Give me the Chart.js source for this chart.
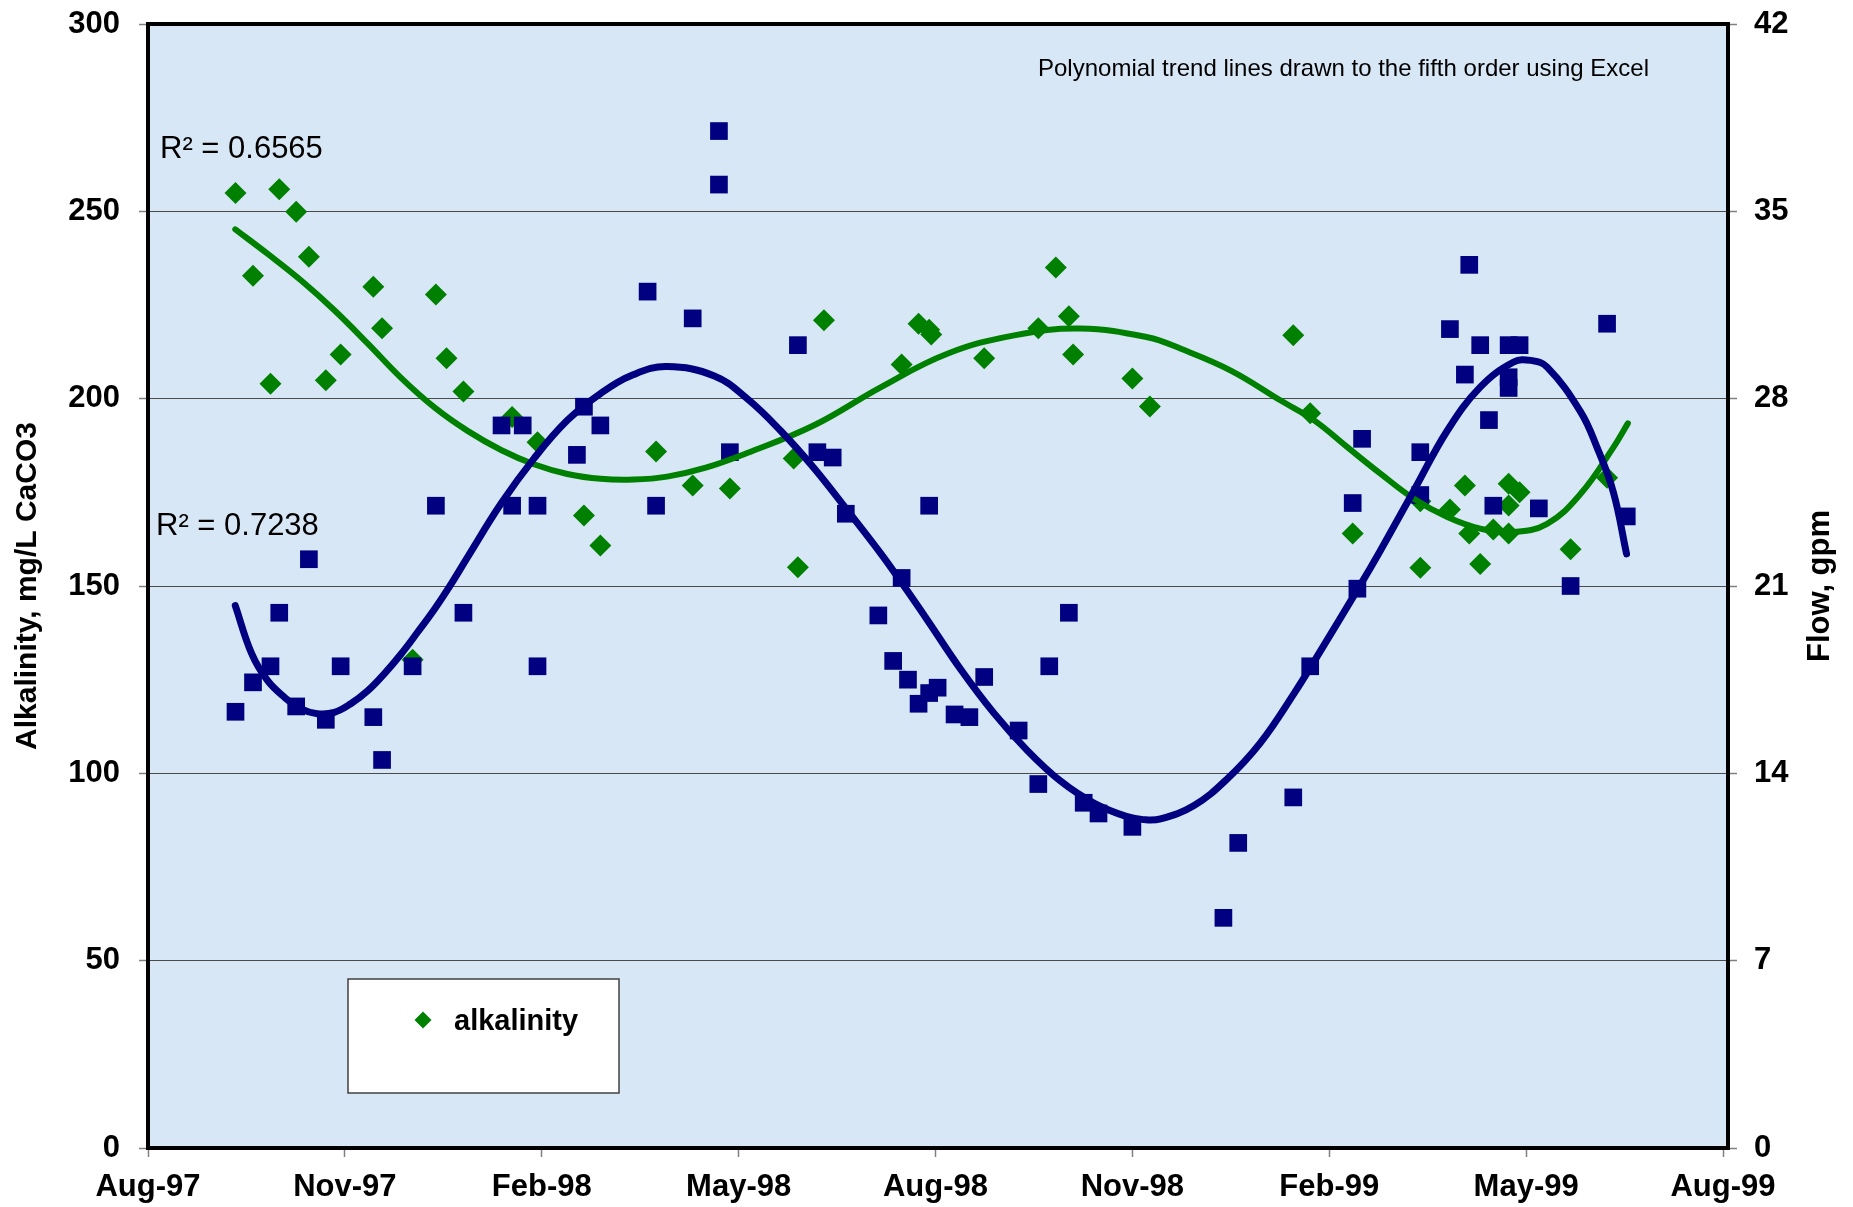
<!DOCTYPE html>
<html>
<head>
<meta charset="utf-8">
<title>Alkalinity and flow</title>
<script src="https://cdn.jsdelivr.net/npm/chart.js@4.4.1/dist/chart.umd.min.js"></script>
<style>
  html, body { margin: 0; padding: 0; background: #ffffff; }
  #wrap { position: relative; width: 1853px; height: 1207px; }
  canvas { display: block; }
</style>
</head>
<body>
<div id="wrap"><canvas id="chart" width="1853" height="1207"></canvas></div>
<script>
// ---- Sampling record (alkalinity and flow read on the same day share a row) ----
const sampleDates = [
  '1997-09-11','1997-09-19','1997-09-27','1997-10-01','1997-10-09','1997-10-15','1997-10-23','1997-10-30',
  '1997-11-14','1997-11-18','1997-12-02','1997-12-13','1997-12-18','1997-12-26','1998-01-13','1998-01-18',
  '1998-01-23','1998-01-30','1998-01-30','1998-02-16','1998-02-19','1998-02-26','1998-03-20','1998-03-24',
  '1998-04-10','1998-04-22','1998-04-22','1998-04-27','1998-05-27','1998-05-29','1998-06-07','1998-06-10',
  '1998-06-14','1998-06-20','1998-07-05','1998-07-12','1998-07-16','1998-07-19','1998-07-24','1998-07-29',
  '1998-07-29','1998-07-30','1998-08-02','1998-08-10','1998-08-17','1998-08-24','1998-09-09','1998-09-18',
  '1998-09-23','1998-09-26','1998-10-02','1998-10-04','1998-10-09','1998-10-16','1998-11-01','1998-11-09',
  '1998-12-13','1998-12-20','1999-01-15','1999-01-23','1999-02-11','1999-02-13','1999-02-15','1999-03-13',
  '1999-03-13','1999-03-27','1999-04-03','1999-04-05','1999-04-10','1999-04-14','1999-04-16','1999-04-23',
  '1999-04-23','1999-04-23','1999-04-28','1999-05-07','1999-05-22','1999-06-08','1999-06-17'
];

// Alkalinity, mg/L CaCO3 (null = not measured that day)
const alkalinity = [
  254.9, 232.8, 204.0, 255.9, 249.9, 237.9, 204.9, 211.8,
  229.9, 218.8, 130.3, 227.8, 210.8, 201.9, null,  195.1,
  null,  188.4, null,  null,  168.8, 160.8, null,  185.9,
  176.8, null,  null,  176.0, 184.0, 155.0, null,  220.9,
  null,  null,  null,  null,  209.1, null,  220.0, 218.4,
  null,  217.1, null,  null,  null,  210.8, null,  218.8,
  null,  235.0, 222.0, 211.8, null,  null,  205.4, 197.9,
  null,  null,  216.9, 196.1, 164.0, null,  null,  172.6,
  154.9, 170.4, 176.8, 164.0, 155.9, null,  165.1, 164.0,
  177.3, 171.5, 175.0, null,  159.8, 178.9, null
];

// Flow, gpm (null = not measured that day)
const flow = [
  16.3, 17.4, 18.0, 20.0, 16.5, 22.0, 16.0, 18.0,
  16.1, 14.5, 18.0, 24.0, null, 20.0, 27.0, 24.0,
  27.0, 24.0, 18.0, 25.9, 27.7, 27.0, 32.0, 24.0,
  31.0, 38.0, 36.0, 26.0, null, 30.0, 26.0, null,
  25.8, 23.7, 19.9, 18.2, 21.3, 17.5, 16.6, 17.0,
  24.0, null, 17.2, 16.2, 16.1, 17.6, 15.6, 13.6,
  18.0, null, 20.0, null, 12.9, 12.5, 12.0, null,
  8.6,  11.4, 13.1, 18.0, 24.1, 20.9, 26.5, 26.0,
  24.4, 30.6, 28.9, 33.0, 30.0, 27.2, 24.0, 30.0,
  28.8, 28.4, 30.0, 23.9, 21.0, 30.8, 23.6
];

// Fifth-order polynomial trend curves, positions in months after 1 Aug 1997
const alkTrendMonths = [
  1.33, 1.82, 2.33, 2.84, 3.35, 3.86, 4.37, 4.87, 5.38, 5.88, 6.39, 6.90, 7.40, 7.91, 8.50,
  9.13, 10.15, 11.17, 12.18, 13.20, 14.21, 15.23, 15.74, 16.50, 17.26, 17.77, 18.28, 18.78,
  19.29, 19.80, 20.30, 20.81, 21.32, 21.83, 22.33, 22.55
];
const alkTrend = [
  245.2, 238.7, 231.6, 223.6, 214.7, 205.5, 197.6, 191.4, 186.3, 182.5, 179.9, 178.6, 178.4, 179.2, 181.6,
  185.5, 192.9, 203.1, 212.0, 216.9, 218.7, 216.4, 213.3, 207.5, 199.5, 194.2, 187.0, 180.0,
  173.3, 168.4, 165.3, 164.4, 166.6, 174.6, 187.0, 193.4
];
const flowTrendMonths = [
  1.33, 1.58, 1.82, 2.08, 2.33, 2.58, 2.84, 3.09, 3.35, 3.60, 3.86, 4.11, 4.37, 4.62, 4.87,
  5.38, 5.88, 6.39, 6.90, 7.40, 7.91, 8.63, 9.13, 9.64, 10.15, 10.65, 11.17, 11.49, 11.87, 12.38,
  12.89, 13.40, 13.91, 14.42, 14.92, 15.17, 15.43, 15.94, 16.44, 16.95, 17.46, 17.86, 18.44, 18.78,
  19.29, 19.80, 20.30, 20.81, 21.07, 21.32, 21.83, 22.08, 22.33, 22.53
];
const flowTrend = [
  20.27, 18.47, 17.47, 16.84, 16.41, 16.23, 16.28, 16.60, 17.09, 17.72, 18.47, 19.28, 20.15, 21.08, 22.08,
  24.08, 25.76, 27.19, 28.20, 28.90, 29.20, 28.85, 28.00, 26.80, 25.40, 23.85, 22.20, 21.10, 19.75, 17.90,
  16.25, 14.85, 13.70, 12.88, 12.38, 12.27, 12.30, 12.80, 13.78, 15.14, 16.97, 18.55, 20.90, 22.33,
  24.57, 26.81, 28.43, 29.37, 29.43, 29.18, 27.51, 26.18, 24.50, 22.20
];

// Axis ticks
const monthTickPositions = [0, 3, 6, 9, 12, 15, 18, 21, 24];
const monthTickLabels = ['Aug-97', 'Nov-97', 'Feb-98', 'May-98', 'Aug-98', 'Nov-98', 'Feb-99', 'May-99', 'Aug-99'];
const alkTicks = [0, 50, 100, 150, 200, 250, 300];
const flowTicks = [0, 7, 14, 21, 28, 35, 42];

// Text drawn on the plot
const alkR2Text = 'R² = 0.6565';
const flowR2Text = 'R² = 0.7238';
const trendNoteText = 'Polynomial trend lines drawn to the fifth order using Excel';
const alkAxisTitle = 'Alkalinity, mg/L CaCO3';
const flowAxisTitle = 'Flow, gpm';

// ---- Helpers ----
const GREEN = '#008000';
const NAVY = '#000080';
const PLOT_BG = '#d8e7f6';
const FONT = "'Liberation Sans', Arial, Helvetica, sans-serif";

// Date string -> fractional months after 1 Aug 1997 (each month equally wide)
function monthsAfterAug97(dateStr) {
  const [y, m, d] = dateStr.split('-').map(Number);
  const daysInMonth = new Date(y, m, 0).getDate();
  return (y - 1997) * 12 + (m - 8) + (d - 1) / daysInMonth;
}

function toPoints(xs, ys) {
  const pts = [];
  xs.forEach((x, i) => { if (ys[i] !== null && ys[i] !== undefined) pts.push({ x: x, y: ys[i] }); });
  return pts;
}

const sampleMonths = sampleDates.map(monthsAfterAug97);

// Fixed box sizes so the plot frame sits where it should; no extra label padding
function fixWidth(w) {
  return s => { s.width = w; s.paddingTop = 0; s.paddingBottom = 0; };
}

// ---- Plot decorations: background, frame, notes, legend, right axis title ----
const plotDecor = {
  id: 'plotDecor',
  beforeDraw(chart) {
    const { ctx, chartArea: a } = chart;
    ctx.save();
    ctx.fillStyle = PLOT_BG;
    ctx.fillRect(a.left, a.top, a.right - a.left, a.bottom - a.top);
    ctx.restore();
  },
  afterDraw(chart) {
    const { ctx, chartArea: a } = chart;
    ctx.save();

    // plot frame
    ctx.strokeStyle = '#000000';
    ctx.lineWidth = 4;
    ctx.strokeRect(a.left, a.top, a.right - a.left, a.bottom - a.top);

    // note and R² labels
    ctx.fillStyle = '#000000';
    ctx.textAlign = 'left';
    ctx.textBaseline = 'alphabetic';
    ctx.font = '24px ' + FONT;
    ctx.fillText(trendNoteText, a.left + 890, a.top + 52);
    ctx.font = '31px ' + FONT;
    ctx.fillText(alkR2Text, a.left + 12, a.top + 134);
    ctx.fillText(flowR2Text, a.left + 8, a.top + 511);

    // legend box (alkalinity only)
    const ds = chart.data.datasets.find(d => d.label === 'alkalinity');
    const bx = a.left + 200, by = a.top + 955, bw = 271, bh = 114;
    ctx.fillStyle = '#ffffff';
    ctx.fillRect(bx, by, bw, bh);
    ctx.strokeStyle = '#404040';
    ctx.lineWidth = 1.5;
    ctx.strokeRect(bx, by, bw, bh);
    ctx.fillStyle = ds.backgroundColor;
    Chart.helpers.drawPoint(ctx, { pointStyle: ds.pointStyle, radius: 8.5, rotation: 0, borderWidth: 0 }, bx + 75, by + 41);
    ctx.fillStyle = '#000000';
    ctx.font = 'bold 29px ' + FONT;
    ctx.fillText(ds.label, bx + 106, by + 51);

    // right axis title, reading bottom to top
    const r = chart.scales.yFlow;
    ctx.translate(r.left + 101, (a.top + a.bottom) / 2);
    ctx.rotate(-Math.PI / 2);
    ctx.textAlign = 'center';
    ctx.font = 'bold 31px ' + FONT;
    ctx.fillText(flowAxisTitle, 0, 0);
    ctx.restore();
  }
};

const tickFont = { family: FONT, size: 31, weight: 'bold' };

new Chart(document.getElementById('chart'), {
  type: 'scatter',
  data: {
    datasets: [
      {
        label: 'flow trend', yAxisID: 'yFlow',
        data: toPoints(flowTrendMonths, flowTrend),
        showLine: true, tension: 0.4, borderColor: NAVY, borderWidth: 7,
        borderCapStyle: 'round', borderJoinStyle: 'round', pointRadius: 0, pointHoverRadius: 0
      },
      {
        label: 'alkalinity trend', yAxisID: 'yAlk',
        data: toPoints(alkTrendMonths, alkTrend),
        showLine: true, tension: 0.4, borderColor: GREEN, borderWidth: 6,
        borderCapStyle: 'round', borderJoinStyle: 'round', pointRadius: 0, pointHoverRadius: 0
      },
      {
        label: 'flow', yAxisID: 'yFlow',
        data: toPoints(sampleMonths, flow),
        pointStyle: 'rect', pointRadius: 12.5, backgroundColor: NAVY, borderColor: NAVY, borderWidth: 0
      },
      {
        label: 'alkalinity', yAxisID: 'yAlk',
        data: toPoints(sampleMonths, alkalinity),
        pointStyle: 'rectRot', pointRadius: 11, backgroundColor: GREEN, borderColor: GREEN, borderWidth: 0
      }
    ]
  },
  options: {
    responsive: false,
    animation: false,
    devicePixelRatio: 1,
    layout: { padding: { top: 24, left: 0, right: 0, bottom: 0 } },
    plugins: { legend: { display: false }, tooltip: { enabled: false } },
    scales: {
      x: {
        type: 'linear', position: 'bottom', min: 0, max: 24.076,
        afterBuildTicks: s => { s.ticks = monthTickPositions.map(v => ({ value: v })); },
        afterFit: s => { s.height = 59; s.paddingLeft = 0; s.paddingRight = 0; },
        ticks: {
          autoSkip: false, maxRotation: 0, minRotation: 0, padding: 12, color: '#000000', font: tickFont,
          callback: (v, i) => monthTickLabels[i]
        },
        grid: { drawOnChartArea: false, drawTicks: true, tickLength: 9, tickColor: '#808080', tickWidth: 1.5 },
        border: { display: false }
      },
      yAlk: {
        type: 'linear', position: 'left', min: 0, max: 300,
        afterBuildTicks: s => { s.ticks = alkTicks.map(v => ({ value: v })); },
        afterFit: fixWidth(148),
        ticks: { padding: 19, color: '#000000', font: tickFont },
        grid: { color: '#4a4a4a', lineWidth: 1, tickLength: 9, tickColor: '#808080', tickWidth: 1.5 },
        border: { display: false },
        title: {
          display: true, text: alkAxisTitle, color: '#000000',
          font: { family: FONT, size: 30, weight: 'bold' }, padding: { top: 10, bottom: 0 }
        }
      },
      yFlow: {
        type: 'linear', position: 'right', min: 0, max: 42,
        afterBuildTicks: s => { s.ticks = flowTicks.map(v => ({ value: v })); },
        afterFit: fixWidth(125),
        ticks: { padding: 17, color: '#000000', font: tickFont },
        grid: { drawOnChartArea: false, tickLength: 9, tickColor: '#808080', tickWidth: 1.5 },
        border: { display: false }
      }
    }
  },
  plugins: [plotDecor]
});
</script>
</body>
</html>
